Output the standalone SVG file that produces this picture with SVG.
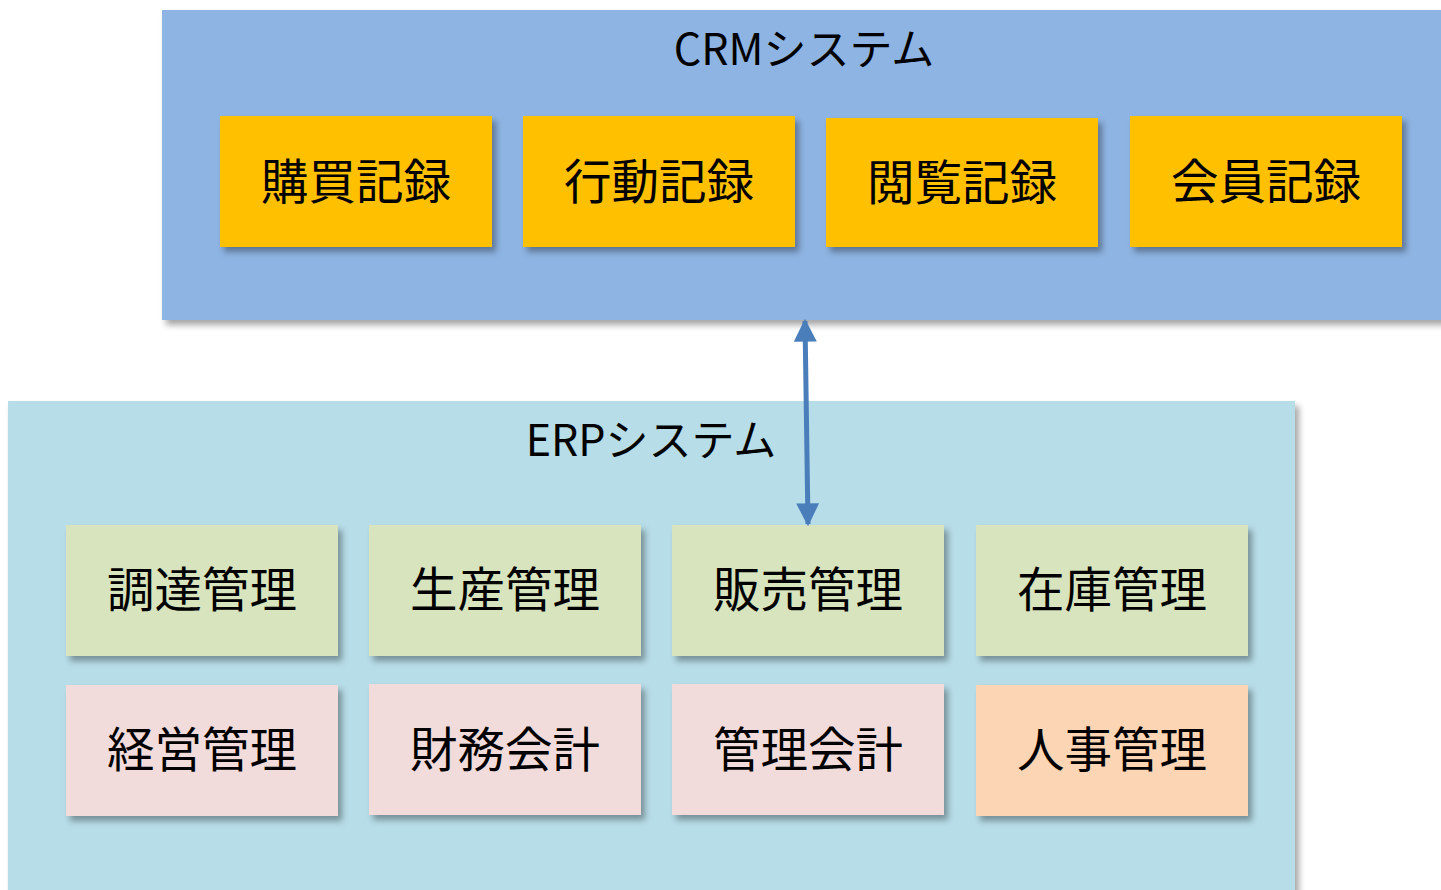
<svg xmlns="http://www.w3.org/2000/svg" width="1441" height="890" viewBox="0 0 1441 890">
<style>
.lbl{font-family:"Noto Sans CJK JP","Noto Sans CJK SC",sans-serif;font-size:47.5px;fill:#000;text-anchor:middle;dominant-baseline:central}
.title{font-family:"Noto Sans CJK JP","Noto Sans CJK SC",sans-serif;font-size:43px;fill:#000;text-anchor:middle}
.crm{fill:#FFC000}
.g{fill:#D7E4BD}
.p{fill:#F2DCDB}
.o{fill:#FCD5B5}
</style>
<defs>
<filter id="sh" x="-10%" y="-10%" width="125%" height="130%">
<feDropShadow dx="4" dy="5" stdDeviation="3" flood-color="#000" flood-opacity="0.35"/>
</filter>
<marker id="ah" viewBox="0 0 10 10" refX="9" refY="5" markerWidth="4.6" markerHeight="4.6" orient="auto-start-reverse" markerUnits="strokeWidth">
<path d="M0,0 L10,5 L0,10 z" fill="#4A7EBB"/>
</marker>
</defs>
<g id="crm-system">
<rect x="162" y="10" width="1290" height="310" fill="#8EB4E3" filter="url(#sh)"/>
<text class="title" x="804" y="65">CRMシステム</text>
</g>
<g id="erp-system">
<rect x="8" y="401" width="1287" height="500" fill="#B7DDE8" filter="url(#sh)"/>
<text class="title" x="651" y="456">ERPシステム</text>
</g>
<g id="n-kobai"><rect class="crm" x="220" y="116" width="272" height="131" filter="url(#sh)"/><text class="lbl" x="356" y="178">購買記録</text></g>
<g id="n-kodo"><rect class="crm" x="523" y="116" width="272" height="131" filter="url(#sh)"/><text class="lbl" x="659" y="178">行動記録</text></g>
<g id="n-etsuran"><rect class="crm" x="826" y="118" width="272" height="129" filter="url(#sh)"/><text class="lbl" x="962" y="179">閲覧記録</text></g>
<g id="n-kaiin"><rect class="crm" x="1130" y="116" width="272" height="131" filter="url(#sh)"/><text class="lbl" x="1266" y="178">会員記録</text></g>
<g id="n-chotatsu"><rect class="g" x="66" y="525" width="272" height="131" filter="url(#sh)"/><text class="lbl" x="202" y="586">調達管理</text></g>
<g id="n-seisan"><rect class="g" x="369" y="525" width="272" height="131" filter="url(#sh)"/><text class="lbl" x="505" y="586">生産管理</text></g>
<g id="n-hanbai"><rect class="g" x="672" y="525" width="272" height="131" filter="url(#sh)"/><text class="lbl" x="808" y="586">販売管理</text></g>
<g id="n-zaiko"><rect class="g" x="976" y="525" width="272" height="131" filter="url(#sh)"/><text class="lbl" x="1112" y="586">在庫管理</text></g>
<g id="n-keiei"><rect class="p" x="66" y="685" width="272" height="131" filter="url(#sh)"/><text class="lbl" x="202" y="746">経営管理</text></g>
<g id="n-zaimu"><rect class="p" x="369" y="684" width="272" height="131" filter="url(#sh)"/><text class="lbl" x="505" y="746">財務会計</text></g>
<g id="n-kanri"><rect class="p" x="672" y="684" width="272" height="131" filter="url(#sh)"/><text class="lbl" x="808" y="746">管理会計</text></g>
<g id="n-jinji"><rect class="o" x="976" y="685" width="272" height="131" filter="url(#sh)"/><text class="lbl" x="1112" y="746">人事管理</text></g>
<g id="connectors">
<line x1="805" y1="321" x2="808" y2="524" stroke="#4A7EBB" stroke-width="5" marker-start="url(#ah)" marker-end="url(#ah)"/>
</g>
</svg>
